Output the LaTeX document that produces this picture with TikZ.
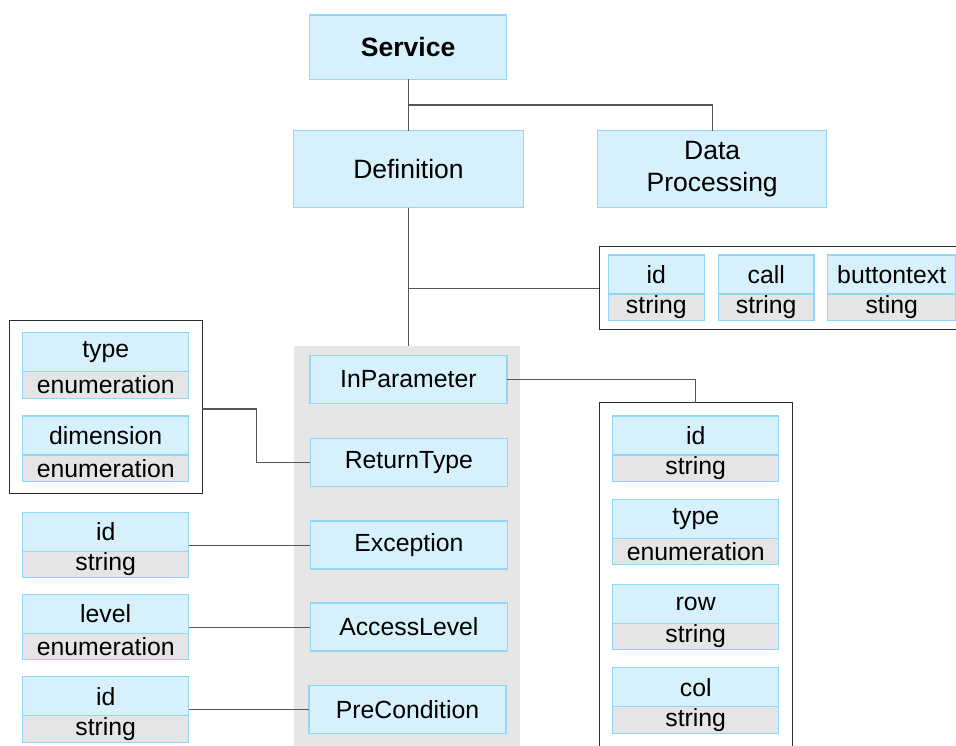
\documentclass[tikz,border=0pt]{standalone}
\usepackage{fontspec}
\setmainfont{Liberation Sans}
\usetikzlibrary{fit,calc}
\definecolor{boxblue}{RGB}{214,240,252}
\definecolor{boxedge}{RGB}{145,214,246}
\definecolor{typegray}{RGB}{229,229,229}
\definecolor{panelgray}{RGB}{230,230,230}
\definecolor{connc}{RGB}{85,85,85}
\definecolor{framec}{RGB}{45,45,45}
\tikzset{
  mainbox/.style={draw=boxedge, fill=boxblue, line width=1.3pt, inner sep=0pt, outer sep=0pt,
    align=center, font=\fontsize{26.5}{32}\selectfont},
  panelbox/.style={draw=boxedge, fill=boxblue, line width=1.3pt, inner sep=0pt, outer sep=0pt,
    minimum width=197pt, minimum height=48pt, font=\fontsize{24.8}{28}\selectfont},
  attrname/.style={draw=boxedge, fill=boxblue, line width=1.3pt, inner sep=0pt, outer sep=0pt,
    minimum height=39pt, font=\fontsize{24.8}{28}\selectfont},
  attrtype/.style={draw=boxedge, fill=typegray, line width=1.3pt, inner sep=0pt, outer sep=0pt,
    minimum height=26.5pt, font=\fontsize{24.8}{28}\selectfont},
  frame/.style={draw=framec, line width=1pt, fill=none, inner sep=0pt, outer sep=0pt},
  conn/.style={draw=connc, line width=1.1pt},
}
\newcommand\attrbox[6]{%
  \node[attrname, minimum width=#4pt, anchor=north] (#1n) at (#2,#3) {#5};
  \node[attrtype, minimum width=#4pt, anchor=north] (#1t) at (#1n.south) {#6};
  \node[fit=(#1n)(#1t), inner sep=0pt, outer sep=0pt] (#1) {};
}
\begin{document}
\begin{tikzpicture}[x=1pt,y=-1pt]
\useasboundingbox (0,0) rectangle (956,745);
\clip (0,0) rectangle (956,745);
\fill[white] (0,0) rectangle (956,745);

% main boxes
\node[mainbox, minimum width=197pt, minimum height=64.3pt] (service) at (408.1,47.2) {\textbf{Service}};
\node[mainbox, minimum width=230pt, minimum height=77pt] (definition) at (408.5,169.2) {Definition};
\node[mainbox, minimum width=229pt, minimum height=77pt] (dp) at (712.2,169.2) {Data\\Processing};

% gray panel
\node[fill=panelgray, inner sep=0pt, outer sep=0pt, minimum width=225.7pt, minimum height=420pt, anchor=north west] (panel) at (294.3,345.7) {};

\node[panelbox] (inparam) at (408.4,379.5) {InParameter};
\node[panelbox] (returntype) at (408.9,462.7) {ReturnType};
\node[panelbox] (exception) at (408.9,545.05) {Exception};
\node[panelbox] (accesslevel) at (408.9,627.05) {AccessLevel};
\node[panelbox] (precondition) at (407.5,709.5) {PreCondition};

% frames
\node[frame, minimum width=380pt, minimum height=83.3pt, anchor=north west] (frameTR) at (599.3,246) {};
\node[frame, minimum width=193pt, minimum height=173.3pt, anchor=north west] (frameL) at (9.3,320) {};
\node[frame, minimum width=192.7pt, minimum height=360pt, anchor=north west] (frameR) at (599.3,402.7) {};

% top-right attributes
\attrbox{tra}{656.3}{255}{96}{id}{string}
\attrbox{trb}{766.2}{255}{95.7}{call}{string}
\attrbox{trc}{891.7}{255}{128.7}{buttontext}{sting}

% left attributes
\attrbox{la}{105.7}{332.7}{166}{type}{enumeration}
\attrbox{lb}{105.7}{416}{166}{dimension}{enumeration}
\attrbox{lc}{105.7}{512.3}{166}{id}{string}
\attrbox{ld}{105.7}{594.3}{166}{level}{enumeration}
\attrbox{le}{105.7}{676.75}{166}{id}{string}

% right attributes
\attrbox{ra}{695.7}{416}{166}{id}{string}
\attrbox{rb}{695.7}{499.3}{166}{type}{enumeration}
\attrbox{rc}{695.7}{584.3}{166}{row}{string}
\attrbox{rd}{695.7}{667.7}{166}{col}{string}

% connectors
\coordinate (j1) at (408.1,105);
\draw[conn] (service.south) -- (service.south |- definition.north);
\draw[conn] (j1) -| (dp.north);
\coordinate (j2) at (408.5,288.3);
\draw[conn] (definition.south) -- (definition.south |- panel.north);
\draw[conn] (j2) -- (j2 -| frameTR.west);
\draw[conn] (inparam.east) -| (frameR.north);
\coordinate (j3) at (256.7,409);
\draw[conn] (frameL.east |- j3) -- (j3) |- (returntype.west);
\draw[conn] (lc.east) -- (lc.east -| exception.west);
\draw[conn] (ld.east) -- (ld.east -| accesslevel.west);
\draw[conn] (le.east) -- (le.east -| precondition.west);
\end{tikzpicture}
\end{document}
